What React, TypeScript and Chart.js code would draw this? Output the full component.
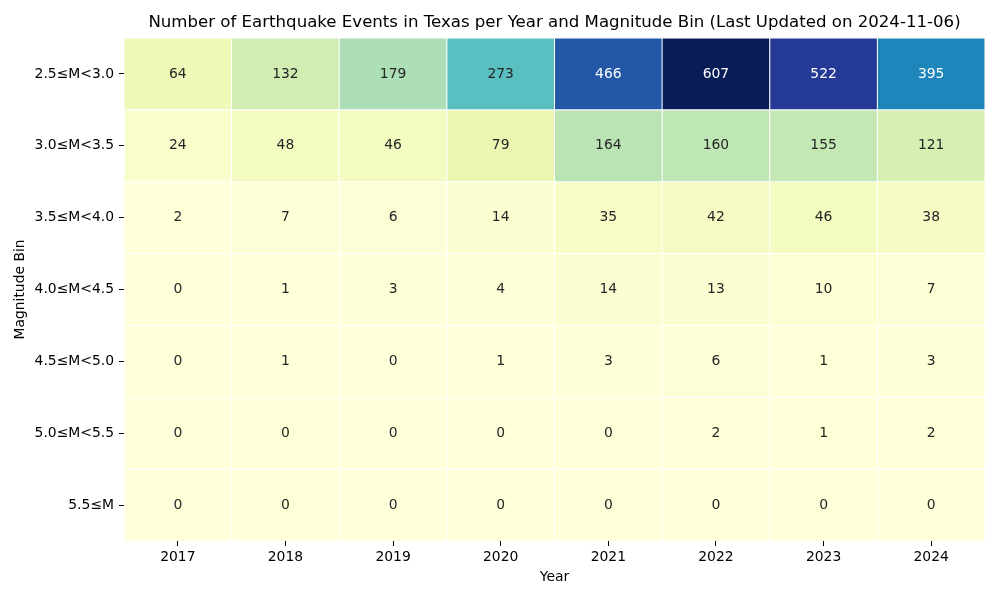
import React, { useEffect, useRef } from 'react';
import { Chart, registerables } from 'chart.js';

Chart.register(...registerables);

const TITLE = 'Number of Earthquake Events in Texas per Year and Magnitude Bin (Last Updated on 2024-11-06)';
const X_TITLE = 'Year';
const Y_TITLE = 'Magnitude Bin';

const years = ['2017', '2018', '2019', '2020', '2021', '2022', '2023', '2024'];
const bins = ['2.5≤M<3.0', '3.0≤M<3.5', '3.5≤M<4.0', '4.0≤M<4.5', '4.5≤M<5.0', '5.0≤M<5.5', '5.5≤M'];

const m25to30 = [64, 132, 179, 273, 466, 607, 522, 395];
const m30to35 = [24, 48, 46, 79, 164, 160, 155, 121];
const m35to40 = [2, 7, 6, 14, 35, 42, 46, 38];
const m40to45 = [0, 1, 3, 4, 14, 13, 10, 7];
const m45to50 = [0, 1, 0, 1, 3, 6, 1, 3];
const m50to55 = [0, 0, 0, 0, 0, 2, 1, 2];
const m55up = [0, 0, 0, 0, 0, 0, 0, 0];

const rows = [m25to30, m30to35, m35to40, m40to45, m45to50, m50to55, m55up];

// matplotlib YlGnBu anchors
const YLGNBU = ['#ffffd9', '#edf8b1', '#c7e9b4', '#7fcdbb', '#41b6c4', '#1d91c0', '#225ea8', '#253494', '#081d58'];

function hexToRgb(h: string): number[] {
  return [parseInt(h.slice(1, 3), 16), parseInt(h.slice(3, 5), 16), parseInt(h.slice(5, 7), 16)];
}

function cmap(t: number): number[] {
  const tt = Math.max(0, Math.min(1, t));
  const n = YLGNBU.length - 1;
  const pos = tt * n;
  const i = Math.min(Math.floor(pos), n - 1);
  const f = pos - i;
  const a = hexToRgb(YLGNBU[i]);
  const b = hexToRgb(YLGNBU[i + 1]);
  return [0, 1, 2].map((k) => a[k] + (b[k] - a[k]) * f);
}

function luminance(rgb: number[]): number {
  const lin = rgb.map((c) => {
    const v = c / 255;
    return v <= 0.03928 ? v / 12.92 : Math.pow((v + 0.055) / 1.055, 2.4);
  });
  return 0.2126 * lin[0] + 0.7152 * lin[1] + 0.0722 * lin[2];
}

const FONT = 'DejaVu Sans';

export default function App() {
  const ref = useRef<HTMLCanvasElement | null>(null);

  useEffect(() => {
    if (!ref.current) return;
    const vmax = Math.max(...rows.flat());
    const vmin = 0;

    const datasets = bins.map((b, i) => ({
      label: b,
      data: years.map(() => 1),
      backgroundColor: rows[i].map((v) => {
        const c = cmap((v - vmin) / (vmax - vmin));
        return `rgb(${c[0]},${c[1]},${c[2]})`;
      }),
      borderColor: '#ffffff',
      borderWidth: 0.85,
      borderSkipped: false as const,
      barPercentage: 1,
      categoryPercentage: 1,
    }));

    const annotate = {
      id: 'annotate',
      afterDatasetsDraw(chart: any) {
        const ctx = chart.ctx;
        ctx.save();
        ctx.font = `13.9px "${FONT}"`;
        ctx.textAlign = 'center';
        ctx.textBaseline = 'middle';
        rows.forEach((row, i) => {
          const meta = chart.getDatasetMeta(i);
          row.forEach((v, j) => {
            const el = meta.data[j];
            if (!el) return;
            const p = el.getCenterPoint();
            const c = cmap((v - vmin) / (vmax - vmin));
            ctx.fillStyle = luminance(c) > 0.408 ? '#262626' : '#ffffff';
            ctx.fillText(String(v), p.x, p.y);
          });
        });
        ctx.restore();
      },
    };

    const titlePlugin = {
      id: 'topTitle',
      afterDraw(chart: any) {
        const ctx = chart.ctx;
        const a = chart.chartArea;
        ctx.save();
        ctx.font = `16.6px "${FONT}"`;
        ctx.fillStyle = '#000000';
        ctx.textAlign = 'center';
        ctx.textBaseline = 'middle';
        ctx.fillText(TITLE, (a.left + a.right) / 2, 23);
        ctx.restore();
      },
    };

    const chart = new Chart(ref.current, {
      type: 'bar',
      data: { labels: years, datasets },
      options: {
        animation: false,
        responsive: false,
        maintainAspectRatio: false,
        layout: { padding: { top: 38, right: 15, left: 0, bottom: 0 } },
        plugins: {
          legend: { display: false },
          tooltip: { enabled: false },
          title: { display: false },
        },
        scales: {
          x: {
            type: 'category',
            stacked: true,
            offset: true,
            border: { display: false },
            grid: {
              offset: false,
              drawOnChartArea: false,
              drawTicks: true,
              tickLength: 5,
              tickWidth: 1,
              tickColor: '#000000',
            },
            ticks: {
              color: '#000000',
              font: { family: FONT, size: 13.9 },
              padding: 3,
              maxRotation: 0,
              autoSkip: false,
            },
            title: {
              display: true,
              text: X_TITLE,
              color: '#000000',
              font: { family: FONT, size: 13.9 },
              padding: { top: 0, bottom: 14 },
            },
            afterFit(scale: any) {
              scale.height = 59;
            },
          },
          y: {
            type: 'linear',
            stacked: true,
            reverse: true,
            min: 0,
            max: 7,
            border: { display: false },
            grid: {
              drawOnChartArea: false,
              drawTicks: true,
              tickLength: 5,
              tickWidth: 1,
              tickColor: '#000000',
            },
            afterBuildTicks(scale: any) {
              scale.ticks = bins.map((_, i) => ({ value: i + 0.5 }));
            },
            ticks: {
              color: '#000000',
              font: { family: FONT, size: 13.9 },
              padding: 5,
              autoSkip: false,
              callback: (v: any) => bins[Math.floor(Number(v))] ?? '',
            },
            title: {
              display: true,
              text: Y_TITLE,
              color: '#000000',
              font: { family: FONT, size: 13.9 },
              padding: { top: 12, bottom: 0 },
            },
            afterFit(scale: any) {
              scale.width = 124;
            },
          },
        },
      },
      plugins: [annotate, titlePlugin],
    });

    return () => chart.destroy();
  }, []);

  return (
    <div style={{ position: 'absolute', left: 0, top: 0, width: 1000, height: 600, background: '#ffffff' }}>
      <canvas ref={ref} width={1000} height={600} style={{ width: 1000, height: 600, display: 'block' }} />
    </div>
  );
}
